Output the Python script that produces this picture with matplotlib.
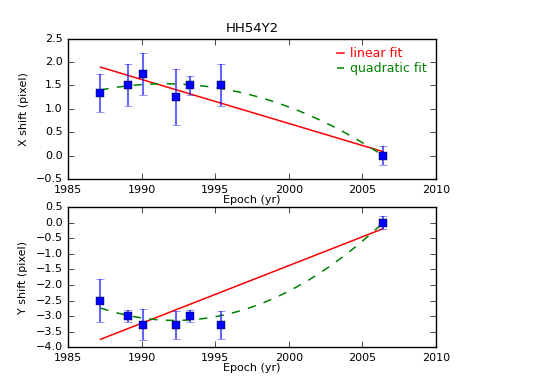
import numpy as np
import matplotlib
matplotlib.use('Agg')
import matplotlib.pyplot as plt

plt.style.use('classic')
plt.rcParams.update({
    'figure.facecolor': 'white',
    'savefig.facecolor': 'white',
    'font.size': 8,
    'axes.titlesize': 9.5,
    'legend.fontsize': 9,
    'axes.formatter.useoffset': False,
})

epoch = [1987.2, 1989.1, 1990.07, 1992.35, 1993.25, 1995.4, 2006.4]
x_shift = [1.34, 1.5, 1.75, 1.25, 1.5, 1.5, 0.0]
x_err = [0.4, 0.45, 0.45, 0.6, 0.2, 0.45, 0.2]
y_shift = [-2.5, -3.0, -3.27, -3.27, -3.0, -3.27, 0.0]
y_err = [0.7, 0.2, 0.5, 0.45, 0.2, 0.45, 0.2]


def draw_panel(ax, t, v, err, ylabel, ylim):
    t = np.array(t)
    v = np.array(v)
    err = np.array(err)
    # weighted least squares fits
    lin = np.polyfit(t, v, 1, w=1 / err)
    quad = np.polyfit(t, v, 2, w=1 / err)
    tt = np.linspace(t[0], t[-1], 100)
    ax.plot(tt, np.polyval(lin, tt), 'r-', lw=1.1, label='linear fit')
    ax.plot(tt, np.polyval(quad, tt), 'g--', lw=1.1, label='quadratic fit')
    ax.errorbar(t, v, yerr=err, fmt='none', ecolor='b', alpha=0.6,
                elinewidth=1.5, capsize=3)
    ax.plot(t, v, 'bs', markersize=6, markeredgecolor='k', markeredgewidth=0.3)
    ax.set_xlim(1985, 2010)
    ax.set_ylim(*ylim)
    ax.set_xlabel('Epoch (yr)', labelpad=0)
    ax.set_ylabel(ylabel)


fig = plt.figure(figsize=(5.45, 3.86), dpi=100)
ax1 = fig.add_subplot(211)
ax2 = fig.add_subplot(212)
fig.subplots_adjust(left=0.125, right=0.8, top=0.9, bottom=0.1, hspace=0.2)

draw_panel(ax1, epoch, x_shift, x_err, 'X shift (pixel)', (-0.5, 2.5))
ax1.set_yticks(np.arange(-0.5, 2.51, 0.5))
ax1.set_title('HH54Y2')
leg = ax1.legend(loc='upper right', frameon=False, handlelength=0.6,
                 handletextpad=0.5, labelspacing=0.15, borderaxespad=0.3,
                 numpoints=1)
for txt, ln in zip(leg.get_texts(), leg.get_lines()):
    txt.set_color(ln.get_color())

draw_panel(ax2, epoch, y_shift, y_err, 'Y shift (pixel)', (-4.0, 0.5))
ax2.set_yticks(np.arange(-4.0, 0.51, 0.5))

fig.savefig('out.png', dpi=100)
